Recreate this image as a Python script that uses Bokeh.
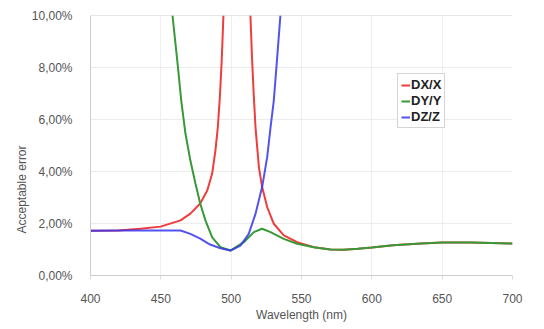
from bokeh.plotting import figure
from bokeh.models import Range1d, FixedTicker, Legend, LegendItem, Title, Span
from bokeh.embed import file_html
from bokeh.resources import INLINE

# ---- data ----
wl_dx = [400, 420, 435.5, 449.8, 464, 471, 478, 483, 486.5, 488.8, 490.5, 492, 493.3, 494.5, 496,
         512, 513.7, 514.8, 516, 517.3, 519.7, 522, 525.6, 530.3, 537.4, 546.9, 558.7, 570.6,
         580, 590, 600, 615, 635, 650, 670, 685, 700]
dx = [1.72, 1.73, 1.80, 1.88, 2.12, 2.38, 2.77, 3.27, 3.92, 4.8, 5.7, 6.9, 8.3, 10, 12,
      12, 10, 8.4, 7.0, 5.7, 4.17, 3.4, 2.63, 1.99, 1.54, 1.28, 1.09, 1.0,
      0.99, 1.03, 1.08, 1.16, 1.23, 1.27, 1.27, 1.25, 1.23]

wl_dy = [456, 458.3, 462, 464.5, 467.5, 471, 474.6, 478, 481.7, 486.5, 492.4, 499.5, 509, 516.1,
         522, 528, 537.4, 546.9, 558.7, 570.6, 580, 590, 600, 615, 635, 650, 670, 685, 700]
dy = [12, 10, 8.1, 6.73, 5.46, 4.42, 3.54, 2.77, 2.12, 1.47, 1.09, 0.96, 1.28, 1.67,
      1.8, 1.67, 1.41, 1.22, 1.09, 1.0, 0.99, 1.03, 1.08, 1.16, 1.23, 1.27, 1.27, 1.25, 1.23]

wl_dz = [400, 420, 435.5, 450, 464, 471, 478, 485, 492.4, 499.5, 506.6, 512.5, 517.3, 522,
         525.6, 528, 530.3, 532.6, 535, 537]
dz = [1.72, 1.73, 1.73, 1.73, 1.73, 1.6, 1.42, 1.19, 1.05, 0.96, 1.15, 1.6, 2.37, 3.4,
      4.55, 5.7, 6.73, 8.3, 10, 12]

x_ticks = [400, 450, 500, 550, 600, 650, 700]
y_ticks = [0, 2, 4, 6, 8, 10]
y_tick_labels = ["0,00%", "2,00%", "4,00%", "6,00%", "8,00%", "10,00%"]
series_names = ["DX/X", "DY/Y", "DZ/Z"]
series_colors = ["#f03c3c", "#379937", "#3535f0"]

FONT = "Liberation Sans"
GRAY = "#555555"

p = figure(width=544, height=329, output_backend="svg", toolbar_location=None,
           x_range=Range1d(400, 700), y_range=Range1d(0, 10),
           min_border_left=90, min_border_right=32, min_border_top=15, min_border_bottom=54)
p.outline_line_color = None
p.background_fill_color = "white"
p.border_fill_color = "white"

# grid
p.xgrid.ticker = FixedTicker(ticks=x_ticks)
p.ygrid.ticker = FixedTicker(ticks=y_ticks)
p.xgrid.grid_line_color = "#efefef"
p.ygrid.grid_line_color = "#ececec"
p.add_layout(Span(location=p.y_range.end, dimension="width", line_color="#cfcfcf", line_width=1))

# x axis
p.xaxis.ticker = FixedTicker(ticks=x_ticks)
p.xaxis.axis_label = "Wavelength (nm)"
p.xaxis.axis_label_text_font = FONT
p.xaxis.axis_label_text_font_size = "12px"
p.xaxis.axis_label_text_font_style = "normal"
p.xaxis.axis_label_text_color = GRAY
p.xaxis.axis_label_standoff = 2
p.xaxis.major_label_text_font = FONT
p.xaxis.major_label_text_font_size = "12px"
p.xaxis.major_label_text_color = GRAY
p.xaxis.major_label_standoff = 14
p.xaxis.axis_line_color = "#cccccc"
p.xaxis.major_tick_line_color = "#dddddd"
p.xaxis.major_tick_out = 4
p.xaxis.major_tick_in = 0
p.xaxis.minor_tick_line_color = None

# y axis
p.yaxis.ticker = FixedTicker(ticks=y_ticks)
p.yaxis.major_label_overrides = dict(zip(y_ticks, y_tick_labels))
p.yaxis.major_label_text_font = FONT
p.yaxis.major_label_text_font_size = "12px"
p.yaxis.major_label_text_color = GRAY
p.yaxis.major_label_standoff = 12
p.yaxis.axis_line_color = "#cccccc"
p.yaxis.major_tick_line_color = None
p.yaxis.minor_tick_line_color = None

ytitle = Title(text="Acceptable error", align="left", offset=42,
               text_font=FONT, text_font_size="12px", text_font_style="normal",
               text_color=GRAY, standoff=0)
p.add_layout(ytitle, "left")

r1 = p.line(wl_dx, dx, line_color=series_colors[0], line_width=2)
r2 = p.line(wl_dy, dy, line_color=series_colors[1], line_width=2)
r3 = p.line(wl_dz, dz, line_color=series_colors[2], line_width=2, line_alpha=0.85)

legend = Legend(items=[LegendItem(label=series_names[0], renderers=[r1]),
                       LegendItem(label=series_names[1], renderers=[r2]),
                       LegendItem(label=series_names[2], renderers=[r3])],
                location=(307, 147))
legend.label_text_font = FONT
legend.label_text_font_size = "13px"
legend.label_text_font_style = "bold"
legend.label_text_color = "#222222"
legend.glyph_width = 9
legend.glyph_height = 14
legend.label_height = 14
legend.label_standoff = 1
legend.spacing = 1
legend.padding = 3
legend.margin = 0
legend.border_line_color = "#aaaaaa"
legend.background_fill_alpha = 1.0
p.add_layout(legend)

open("out.html", "w").write(file_html(p, INLINE))
